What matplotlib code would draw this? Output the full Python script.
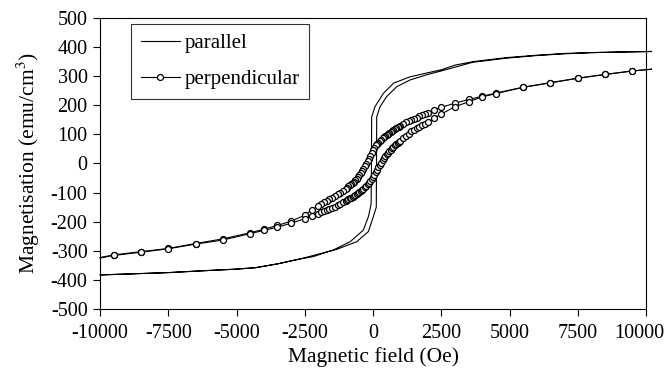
import matplotlib
matplotlib.use("Agg")
import matplotlib.pyplot as plt
from matplotlib.transforms import ScaledTranslation

plt.rcParams['font.family'] = ['Liberation Serif', 'DejaVu Serif']
plt.rcParams['axes.unicode_minus'] = False
plt.rcParams['mathtext.fontset'] = 'stix'

# parallel loop: decreasing field branch, then increasing field branch
H_par_down = [10200, 9000, 8000, 7000, 6000, 4900, 3660, 3000, 2500, 1970, 1360, 750, 380, 70,
              -50, -55, -60, -70, -170, -355, -840, -1450, -2190, -2670, -3500, -4300, -5000,
              -6300, -7500, -10000]
M_par_down = [385, 383, 381, 378, 372, 364, 350, 338, 322, 311, 298, 276, 241, 195,
              160, 57, -60, -140, -183, -229, -269, -297, -320, -328, -345, -358, -363,
              -369, -375, -383]
H_par_up = [-10000, -7500, -6300, -5000, -4300, -3500, -2670, -1330, -600, -170, 12, 120, 125,
            130, 135, 256, 500, 870, 1355, 1967, 2500, 3660, 4900, 6000, 7000, 8000, 9000, 10200]
M_par_up = [-383, -375, -369, -363, -358, -345, -328, -295, -269, -234, -183, -150, -50,
            60, 160, 195, 230, 264, 287, 305, 318, 348, 362, 371, 377, 381, 383, 385]

# perpendicular loop, decreasing field
H_perp_down = [10200, 9500, 8500, 7500, 6500, 5500, 4500, 4000, 3500, 3000, 2500, 2250,
               2000, 1900, 1800, 1700, 1600, 1500, 1400, 1300, 1200, 1100,
               1000, 950, 900, 850, 800, 750, 700, 650, 600, 550, 500, 450, 400, 350, 300,
               250, 200, 150, 100, 50, 0, -50, -100, -150, -200, -250, -300, -350, -400,
               -450, -500, -550, -600, -650, -700, -750, -800, -850, -900, -950, -1000,
               -1100, -1200, -1300, -1400, -1500, -1600, -1700, -1800, -1900, -2000,
               -2250, -2500, -3000, -3500, -4000, -4500, -5500, -6500, -7500, -8500, -9500,
               -10000]
M_perp_down = [324, 318, 306, 293, 277, 262, 242, 231, 220, 207, 193, 184,
               175, 171, 167, 163, 158, 154, 150, 145, 141, 136,
               130, 127, 124, 121, 118, 115, 112, 109, 106, 103, 99, 95, 91, 87, 82,
               77, 72, 67, 62, 54, 45, 35, 25, 16, 7, -2, -10, -19, -27,
               -34, -40, -46, -52, -57, -62, -67, -71, -75, -79, -83, -87,
               -94, -100, -106, -112, -118, -123, -129, -134, -140, -145,
               -160, -178, -198, -213, -226, -238, -259, -275, -292, -303, -314,
               -323]

# perpendicular loop, increasing field
H_perp_up = [-10000, -9500, -8500, -7500, -6500, -5500, -4500, -4000, -3500, -3000, -2500,
             -2250, -2000, -1900, -1800, -1700, -1600, -1500, -1400, -1300, -1200, -1100,
             -1000, -950, -900, -850, -800, -750, -700, -650, -600, -550, -500, -450, -400,
             -350, -300, -250, -200, -150, -100, -50, 0, 50, 100, 150, 200, 250, 300, 350,
             400, 450, 500, 550, 600, 650, 700, 750, 800, 850, 900, 950, 1000,
             1100, 1200, 1300, 1400, 1500, 1600, 1700, 1800, 1900, 2000,
             2250, 2500, 3000, 3500, 4000, 4500, 5500, 6500, 7500, 8500, 9500, 10200]
M_perp_up = [-325, -316, -305, -293, -277, -263, -241, -230, -219, -205, -190,
             -181, -172, -168, -164, -160, -156, -152, -148, -144, -139, -134,
             -129, -126, -123, -120, -117, -114, -111, -108, -105, -102, -98, -94, -90,
             -86, -81, -76, -71, -66, -60, -53, -46, -38, -30, -21, -13, -5, 3, 11,
             18, 25, 31, 37, 43, 48, 53, 58, 62, 66, 70, 74, 78,
             87, 96, 103, 110, 116, 122, 127, 132, 137, 142,
             156, 170, 195, 212, 229, 240, 262, 278, 293, 306, 318, 324]

x_ticks = [-10000, -7500, -5000, -2500, 0, 2500, 5000, 7500, 10000]
y_ticks = [-500, -400, -300, -200, -100, 0, 100, 200, 300, 400, 500]

fig = plt.figure(figsize=(6.67, 3.72), dpi=100)
ax = fig.add_axes([0.15, 0.1694, 0.8185, 0.7822])

ax.plot(H_par_down + H_par_up, M_par_down + M_par_up, color='black', lw=0.8,
        clip_on=False, label='parallel')
mk = dict(color='black', lw=0.8, marker='o', markersize=4.3, markerfacecolor='white',
          markeredgecolor='black', markeredgewidth=0.9, markevery=slice(1, -1), clip_on=False)
ax.plot(H_perp_down, M_perp_down, label='perpendicular', **mk)
ax.plot(H_perp_up, M_perp_up, **mk)

ax.set_xlim(-10000, 10000)
ax.set_ylim(-500, 500)
ax.set_xticks(x_ticks)
ax.set_yticks(y_ticks)
ax.tick_params(direction='out', length=5, width=0.8, labelsize=14.5, top=False, right=False)
ax.tick_params(axis='x', pad=6)
ax.tick_params(axis='y', pad=4)
for s in ax.spines.values():
    s.set_linewidth(0.8)

# last x label sits a little to the left of its tick, as in the source
last = ax.get_xticklabels()[-1]
last.set_transform(last.get_transform() + ScaledTranslation(-0.07, 0, fig.dpi_scale_trans))

ax.set_xlabel('Magnetic field (Oe)', fontsize=15.5, labelpad=3)
ax.set_ylabel('Magnetisation (emu/cm$^3$)', fontsize=15.5, labelpad=6)

leg = ax.legend(loc='upper left', bbox_to_anchor=(0.057, 0.979), fontsize=15, frameon=True,
                fancybox=False, edgecolor='black', numpoints=1, handlelength=1.9,
                borderpad=0.45, labelspacing=0.8, handletextpad=0.2, borderaxespad=0)
leg.get_frame().set_linewidth(0.8)

fig.savefig('out.png', dpi=100)
